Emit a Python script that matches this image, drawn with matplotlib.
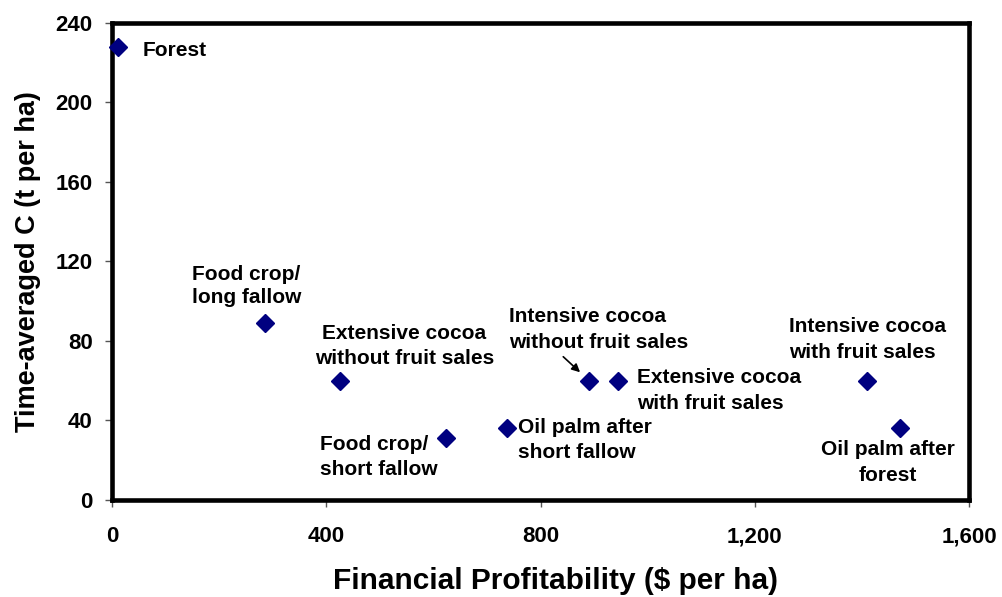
import matplotlib.pyplot as plt

plt.rcParams['font.family'] = ['Liberation Sans', 'DejaVu Sans']
plt.rcParams['font.weight'] = 'bold'

# land-use systems: profitability ($/ha) vs time-averaged carbon (t/ha)
labels = ['Forest', 'Food crop/\nlong fallow', 'Extensive cocoa\nwithout fruit sales',
          'Food crop/\nshort fallow', 'Oil palm after\nshort fallow',
          'Intensive cocoa\nwithout fruit sales', 'Extensive cocoa\nwith fruit sales',
          'Intensive cocoa\nwith fruit sales', 'Oil palm after\nforest']
profit = [12, 286, 426, 624, 738, 891, 944, 1410, 1472]
carbon = [228, 89, 60, 31, 36, 60, 60, 60, 36]

# label offsets in pixels and alignment
offsets = [(24, -4), (-19, 37), (64, 35), (-126, -19), (11, -12),
           (-80, 51), (19, -10), (-78, 41), (-13, -34)]
aligns = ['left', 'center', 'center', 'left', 'left', 'left', 'left', 'left', 'center']
spacing = [1.3, 1.3, 1.4, 1.4, 1.4, 1.45, 1.45, 1.45, 1.45]

fig = plt.figure(figsize=(10.03, 5.97), dpi=100)
ax = fig.add_axes([0.1117, 0.1625, 0.8544, 0.799])

ax.plot(profit, carbon, 'D', color='#000080', markersize=9.5, clip_on=False, zorder=3)

for lab, x, y, off, ha, ls in zip(labels, profit, carbon, offsets, aligns, spacing):
    ax.annotate(lab, (x, y), xytext=off, textcoords='offset pixels',
                ha=ha, va='center', fontsize=15, fontweight='bold',
                linespacing=ls)

# arrow pointing at intensive cocoa without fruit sales
ax.annotate('', (profit[5], carbon[5]), xytext=(-26, 24), textcoords='offset pixels',
            arrowprops=dict(arrowstyle='-|>', color='black', lw=1.2,
                            shrinkA=0, shrinkB=9, mutation_scale=12))

ax.set_xlim(0, 1600)
ax.set_ylim(0, 240)
ax.set_xticks([0, 400, 800, 1200, 1600])
ax.set_xticklabels(['0', '400', '800', '1,200', '1,600'])
ax.set_yticks([0, 40, 80, 120, 160, 200, 240])
ax.tick_params(labelsize=16, length=5, width=1, color='#555555', pad=14)
ax.tick_params(axis='y', pad=9)
for s in ax.spines.values():
    s.set_linewidth(3.3)

ax.set_xlabel('Financial Profitability ($ per ha)', fontsize=21.5, fontweight='bold')
ax.set_ylabel('Time-averaged C (t per ha)', fontsize=19.5, fontweight='bold')
ax.xaxis.set_label_coords(0.5175, -0.14)
ax.yaxis.set_label_coords(-0.083, 0.5)

fig.savefig('out.png', dpi=100)
